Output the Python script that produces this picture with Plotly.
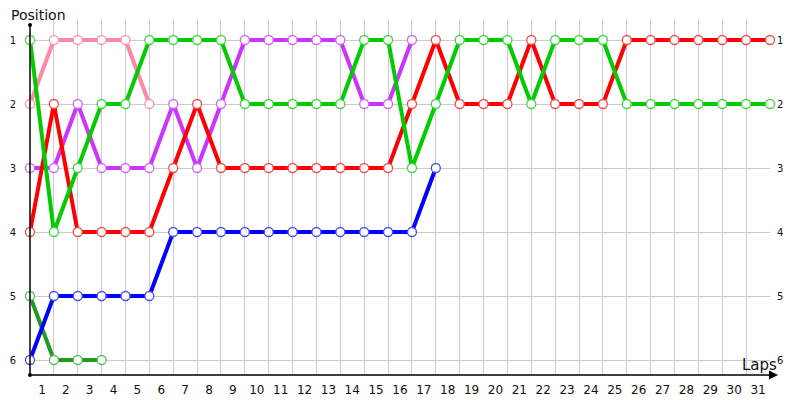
import plotly.graph_objects as go

laps = list(range(0, 32))
lap_labels = [str(i) for i in range(1, 32)]
positions = [1, 2, 3, 4, 5, 6]

green = [1, 4, 3, 2, 2, 1, 1, 1, 1, 2, 2, 2, 2, 2, 1, 1, 3, 2, 1, 1, 1, 2, 1, 1, 1, 2, 2, 2, 2, 2, 2, 2]
red = [4, 2, 4, 4, 4, 4, 3, 2, 3, 3, 3, 3, 3, 3, 3, 3, 2, 1, 2, 2, 2, 1, 2, 2, 2, 1, 1, 1, 1, 1, 1, 1]
purple = [3, 3, 2, 3, 3, 3, 2, 3, 2, 1, 1, 1, 1, 1, 2, 2, 1]
pink = [2, 1, 1, 1, 1, 2]
blue = [6, 5, 5, 5, 5, 5, 4, 4, 4, 4, 4, 4, 4, 4, 4, 4, 4, 3]
darkgreen = [5, 6, 6, 6]

series = [
    (darkgreen, "#229a22", "#5ab85a"),
    (blue, "#0000ff", "#4a4aff"),
    (pink, "#ff88a8", "#ff98b4"),
    (purple, "#cc33ff", "#d466ff"),
    (red, "#ff0000", "#ff4a4a"),
    (green, "#00cc00", "#44d644"),
]

fig = go.Figure()
for vals, col, mcol in series:
    fig.add_trace(go.Scatter(
        x=laps[:len(vals)], y=vals, mode="lines+markers",
        line=dict(color=col, width=4),
        marker=dict(symbol="circle", size=9, color="white",
                    line=dict(color=mcol, width=1.3)),
        cliponaxis=False, hoverinfo="skip", showlegend=False,
    ))

# The page body has an 8px margin; figure pixel coords below are page coords minus 8.
font = "DejaVu Sans"
PH = 356  # plot height in px
fig.update_layout(
    width=792, height=392,
    margin=dict(l=22, r=30, t=11, b=25, autoexpand=False),
    plot_bgcolor="white", paper_bgcolor="white",
    showlegend=False,
    xaxis=dict(
        range=[0, 31], tickmode="array", automargin=False,
        tickvals=[v - 0.5 for v in laps[1:]], ticktext=lap_labels,
        showgrid=False, zeroline=False, showline=False, ticks="",
        tickfont=dict(family=font, size=12, color="#111"),
        ticklabelstandoff=6,
        minor=dict(tickmode="array", tickvals=laps[1:], showgrid=True,
                   gridcolor="#cccccc", gridwidth=1, ticks=""),
    ),
    yaxis=dict(
        range=[6.234375, 0.671875], tickmode="array", automargin=False,
        tickvals=positions, ticktext=[str(p) for p in positions],
        showgrid=True, gridcolor="#cccccc", gridwidth=1,
        zeroline=False, showline=False, ticks="",
        tickfont=dict(family=font, size=10, color="#111"),
        ticklabelstandoff=13,
    ),
)

# right-side position labels
for p in positions:
    fig.add_annotation(x=1, xref="paper", y=p, yref="y", text=str(p),
                       showarrow=False, xanchor="left", xshift=5,
                       font=dict(family=font, size=10, color="#111"))

# axis lines
top_paper = (375 - 25) / PH
fig.add_shape(type="line", xref="paper", yref="paper", x0=0, x1=0, y0=0, y1=top_paper,
              line=dict(color="black", width=1.5))
for yy in [0, top_paper]:
    fig.add_shape(type="circle", xref="paper", yref="paper",
                  xsizemode="pixel", ysizemode="pixel",
                  xanchor=0, yanchor=yy, x0=-2, x1=2, y0=-2, y1=2,
                  fillcolor="black", line=dict(width=0))
fig.add_annotation(x=(778 - 30) / 740, xref="paper", y=0, yref="paper",
                   ax=-748, ay=0, axref="pixel", ayref="pixel", text="",
                   showarrow=True, arrowhead=2, arrowsize=1.2, arrowwidth=1.5,
                   arrowcolor="black", standoff=0)

fig.add_annotation(x=(9 - 30) / 740, xref="paper", y=(375 - 15) / PH, yref="paper",
                   text="Position", showarrow=False, xanchor="left", yanchor="middle",
                   font=dict(family=font, size=14, color="#111"))
fig.add_annotation(x=(759 - 30) / 740, xref="paper", y=(375 - 365) / PH, yref="paper",
                   text="Laps", showarrow=False, xanchor="center", yanchor="middle",
                   font=dict(family=font, size=15, color="#111"))

fig.write_html("out.html")
